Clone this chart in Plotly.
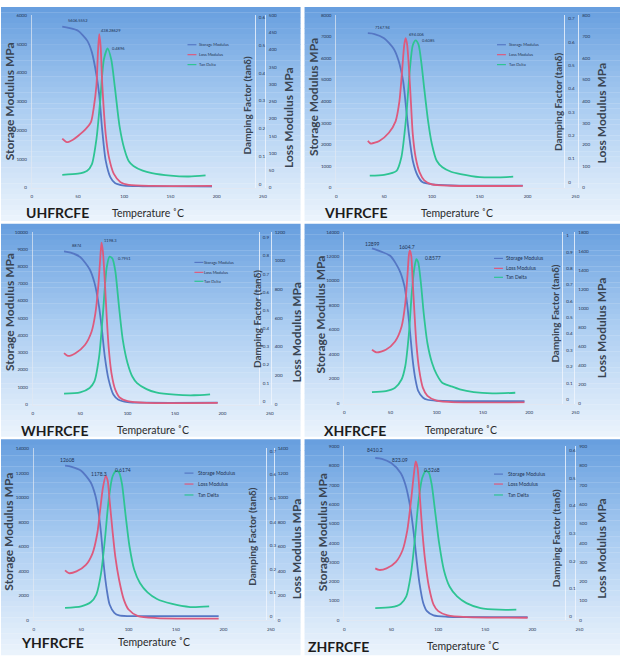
import plotly.graph_objects as go

W, H = 624, 657

# ---------------- data ----------------
sample_names = ["UHFRCFE", "VHFRCFE", "WHFRCFE", "XHFRCFE", "YHFRCFE", "ZHFRCFE"]
series_names = ["Storage Modulus", "Loss Modulus", "Tan Delta"]
x_label = "Temperature ˚C"
storage_title = "Storage Modulus MPa"
damping_title = "Damping Factor (tanδ)"
loss_title = "Loss Modulus MPa"
x_ticks = [0, 50, 100, 150, 200, 250]

# UHFRCFE
u_storage_T = [33, 40, 50, 60, 65, 70, 73, 76, 80, 85, 90, 100, 120, 150, 195]
u_storage = [5607, 5560, 5460, 5118, 4717, 3916, 3229, 2084, 939, 366, 160, 70, 50, 45, 40]
u_loss_T = [33, 38, 45, 50, 58, 64, 67, 70, 71.6, 73, 74.5, 76.3, 80, 83.5, 88.8, 96, 105, 130, 195]
u_loss = [142, 132, 140, 150, 169, 190, 231, 298, 393, 445, 410, 298, 155, 88, 40, 16, 8, 5, 5]
u_tan_T = [33, 50, 60, 65, 70, 74, 78, 82, 86, 90, 95, 100, 105, 110, 120, 130, 150, 170, 188]
u_tan = [0.033, 0.037, 0.048, 0.071, 0.163, 0.30, 0.449, 0.489, 0.449, 0.346, 0.208, 0.128, 0.082, 0.065, 0.048, 0.039, 0.030, 0.027, 0.031]
u_peak_labels = ["5606.5552", "438.28629", "0.4896"]

# VHFRCFE
v_storage_T = [33, 40, 50, 60, 65, 70, 73, 76, 80, 85, 90, 100, 120, 195]
v_storage = [7168, 7130, 6931, 6443, 5908, 4916, 3695, 2473, 1252, 565, 260, 153, 107, 92]
v_loss_T = [33, 36, 45, 55, 62, 66, 69, 71, 72.5, 74, 76, 78, 80, 83, 87, 92, 100, 120, 195]
v_loss = [217, 205, 217, 255, 308, 400, 553, 660, 694, 667, 553, 400, 247, 140, 72, 34, 15, 9, 8]
v_tan_T = [35, 50, 63, 68, 73, 77, 80, 83, 86, 89, 92, 96, 100, 105, 111, 120, 130, 150, 170, 185]
v_tan = [0.028, 0.032, 0.049, 0.106, 0.276, 0.488, 0.587, 0.608, 0.590, 0.510, 0.400, 0.262, 0.163, 0.092, 0.064, 0.045, 0.035, 0.022, 0.021, 0.024]
v_peak_labels = ["7167.94", "694.006", "0.6085"]

# WHFRCFE
w_storage_T = [33, 40, 50, 60, 65, 70, 73, 76, 80, 85, 90, 100, 120, 195]
w_storage = [8874, 8795, 8547, 7839, 7075, 5640, 4302, 2772, 1434, 574, 287, 134, 96, 96]
w_loss_T = [33, 37, 45, 55, 62, 66, 69, 71, 72.5, 74, 76, 78, 80, 83, 87, 92, 100, 120, 195]
w_loss = [356, 337, 356, 413, 505, 631, 815, 998, 1125, 1062, 856, 608, 401, 218, 103, 46, 23, 11, 11]
w_tan_T = [33, 50, 60, 65, 70, 74, 78, 81, 84, 87, 91, 95, 100, 105, 110, 120, 130, 150, 170, 187]
w_tan = [0.042, 0.049, 0.073, 0.109, 0.245, 0.482, 0.736, 0.795, 0.785, 0.718, 0.518, 0.336, 0.209, 0.136, 0.100, 0.067, 0.049, 0.036, 0.033, 0.038]
w_peak_labels = ["8874", "1198.3", "0.7951"]

# XHFRCFE
x_storage_T = [30, 40, 50, 60, 65, 68, 71, 74, 77, 80, 85, 90, 100, 120, 195]
x_storage = [12650, 12388, 12038, 10829, 9620, 8142, 5992, 3574, 1961, 1021, 484, 296, 215, 188, 188]
x_loss_T = [30, 35, 45, 55, 62, 66, 68.5, 70, 71, 72.5, 74, 76, 78, 81, 85, 90, 100, 120, 195]
x_loss = [563, 535, 563, 650, 805, 1047, 1358, 1565, 1605, 1548, 1289, 943, 632, 356, 166, 79, 28, 10, 10]
x_tan_T = [30, 45, 55, 62, 66, 70, 73, 76, 78, 80, 83, 86, 90, 95, 100, 106, 115, 125, 140, 160, 185]
x_tan = [0.044, 0.050, 0.071, 0.121, 0.202, 0.404, 0.646, 0.808, 0.858, 0.838, 0.707, 0.525, 0.343, 0.222, 0.152, 0.101, 0.081, 0.061, 0.044, 0.036, 0.040]
x_peak_labels = ["12899", "1604.7", "0.8577"]

# YHFRCFE
y_storage_T = [33, 40, 50, 60, 65, 68, 71, 74, 77, 80, 85, 90, 100, 120, 195]
y_storage = [12608, 12516, 12193, 11249, 10169, 8956, 7067, 4370, 2482, 1268, 593, 378, 324, 324, 324]
y_loss_T = [33, 37, 45, 55, 62, 67, 70, 73, 76, 78, 80, 83, 86, 90, 95, 100, 110, 130, 195]
y_loss = [405, 383, 397, 450, 545, 707, 896, 1084, 1178, 1138, 977, 734, 518, 329, 167, 86, 32, 16, 11]
y_tan_T = [33, 50, 60, 66, 71, 75, 79, 83, 87, 90, 93, 97, 101, 106, 112, 120, 130, 145, 165, 185]
y_tan = [0.035, 0.042, 0.059, 0.092, 0.183, 0.324, 0.493, 0.592, 0.617, 0.610, 0.563, 0.424, 0.296, 0.197, 0.141, 0.101, 0.073, 0.053, 0.039, 0.042]
y_peak_labels = ["12608", "1178.3", "0.6174"]

# ZHFRCFE
z_storage_T = [33, 40, 50, 60, 65, 70, 74, 77, 80, 84, 88, 95, 110, 195]
z_storage = [8410, 8368, 8146, 7634, 7036, 5926, 4474, 3108, 1913, 888, 461, 239, 171, 154]
z_loss_T = [33, 37, 45, 55, 62, 67, 71, 74, 76, 78, 80, 83, 86, 90, 95, 100, 110, 130, 195]
z_loss = [268, 260, 268, 302, 362, 464, 618, 755, 823, 789, 669, 464, 311, 174, 80, 46, 24, 15, 12]
z_tan_T = [33, 50, 60, 66, 71, 75, 79, 83, 87, 90, 93, 97, 101, 106, 112, 120, 130, 145, 165, 183]
z_tan = [0.030, 0.033, 0.045, 0.072, 0.155, 0.275, 0.418, 0.502, 0.527, 0.520, 0.478, 0.370, 0.263, 0.167, 0.108, 0.072, 0.048, 0.030, 0.024, 0.024]
z_peak_labels = ["8410.2", "823.09", "0.5268"]

panels_data = [
    (u_storage_T, u_storage, u_loss_T, u_loss, u_tan_T, u_tan, u_peak_labels),
    (v_storage_T, v_storage, v_loss_T, v_loss, v_tan_T, v_tan, v_peak_labels),
    (w_storage_T, w_storage, w_loss_T, w_loss, w_tan_T, w_tan, w_peak_labels),
    (x_storage_T, x_storage, x_loss_T, x_loss, x_tan_T, x_tan, x_peak_labels),
    (y_storage_T, y_storage, y_loss_T, y_loss, y_tan_T, y_tan, y_peak_labels),
    (z_storage_T, z_storage, z_loss_T, z_loss, z_tan_T, z_tan, z_peak_labels),
]

# axis scales per panel: storage max/step, tan range, loss max/step
storage_axes = [(6000, 1000), (8000, 1000), (10000, 1000), (14000, 2000), (14000, 2000), (9000, 1000)]
tan_ranges = [(-0.014, 0.61), (-0.024, 0.717), (-0.018, 0.933), (-0.026, 1.026), (-0.017, 0.713), (-0.014, 0.616)]
loss_axes = [(500, 50), (800, 100), (1200, 200), (1800, 200), (1400, 200), (900, 100)]

# ---------------- layout geometry (pixels) ----------------
geo = [
    dict(box=(0, 5, 302, 220), x=(31, 264), y=(13, 187), tanp=256, lossp=266,
         st=(8, 100), dt=(248, 104), lt=(290, 116), lab=(57, 212), tmp=(148, 212),
         leg=(188, 198, [43, 53, 63], 4), sh=[(16, 6), (12, 4), (11, 0)], lf=4),
    dict(box=(306, 5, 624, 220), x=(338, 579), y=(13, 187), tanp=568, lossp=582,
         st=(315, 95), dt=(562, 100), lt=(605, 112), lab=(358, 212), tmp=(460, 212),
         leg=(500, 510, [43, 53, 63], 4), sh=[(15, 6), (11, 4), (13, 0)], lf=4),
    dict(box=(0, 223, 302, 437), x=(32, 271), y=(231, 405), tanp=260, lossp=272,
         st=(8, 312), dt=(258, 319), lt=(298, 332), lab=(54, 431), tmp=(153, 431),
         leg=(195, 203, [262, 272, 281], 4), sh=[(13, 6), (9, 2), (15, -2)], lf=4),
    dict(box=(306, 223, 624, 437), x=(346, 579), y=(231, 404), tanp=566, lossp=578,
         st=(322, 314), dt=(559, 314), lt=(605, 328), lab=(357, 431), tmp=(464, 431),
         leg=(497, 507, [258, 268, 277], 5), sh=[(1, 4), (-3, 4), (17, 1)], lf=5),
    dict(box=(0, 440, 302, 657), x=(33, 272), y=(449, 622), tanp=267, lossp=275,
         st=(8, 533), dt=(253, 538), lt=(298, 550), lab=(52, 644), tmp=(154, 644),
         leg=(185, 197, [474, 485, 496], 5), sh=[(2, 6), (-7, 2), (7, 1)], lf=5),
    dict(box=(306, 440, 624, 657), x=(346, 583), y=(447, 622), tanp=569, lossp=579,
         st=(324, 533), dt=(559, 540), lt=(605, 550), lab=(340, 648), tmp=(466, 648),
         leg=(497, 509, [475, 485, 496], 5), sh=[(0, 8), (-16, 1), (6, 1)], lf=5),
]

BLUE, RED, GREEN = "#5577c4", "#dd5a7d", "#2ec493"
colors = [BLUE, RED, GREEN]
TICK_C = "#1f3352"
TITLE_C = "#3a4553"
FONT = "Lato"


def fx(px):
    return px / W


def fy(py):
    return 1 - py / H


def lerp_color(t):
    stops = [(0.0, (102, 158, 222)), (0.45, (168, 203, 241)), (1.0, (236, 244, 252))]
    for (t0, c0), (t1, c1) in zip(stops[:-1], stops[1:]):
        if t <= t1:
            a = (t - t0) / (t1 - t0)
            c = [round(c0[k] + a * (c1[k] - c0[k])) for k in range(3)]
            return f"rgb({c[0]},{c[1]},{c[2]})"
    return "rgb(236,244,252)"


fig = go.Figure()
layout = {}
shapes = []
annotations = []

tickfont = dict(family=FONT, size=4.5, color=TICK_C)

for i, (d, g) in enumerate(zip(panels_data, geo)):
    sT, s, lT, l, tT, t, labels = d
    n = i + 1
    xn = "x" if n == 1 else f"x{n}"
    xkey = "xaxis" if n == 1 else f"xaxis{n}"
    yi = [3 * i + 1, 3 * i + 2, 3 * i + 3]
    yn = ["y" if k == 1 else f"y{k}" for k in yi]
    ykey = ["yaxis" if k == 1 else f"yaxis{k}" for k in yi]

    # background gradient
    bx0, by0, bx1, by1 = g["box"]
    N = 40
    hstep = (by1 - by0) / N
    for k in range(N):
        shapes.append(dict(type="rect", xref="paper", yref="paper",
                           x0=fx(bx0), x1=fx(bx1),
                           y0=fy(by0 + (k + 1) * hstep + 0.3), y1=fy(by0 + k * hstep),
                           fillcolor=lerp_color((k + 0.5) / N), line=dict(width=0),
                           layer="below"))

    # traces
    for (xx, yy, yname, col, nm) in [(sT, s, yn[0], BLUE, series_names[0]),
                                     (lT, l, yn[2], RED, series_names[1]),
                                     (tT, t, yn[1], GREEN, series_names[2])]:
        fig.add_trace(go.Scatter(x=xx, y=yy, mode="lines", name=nm,
                                 line=dict(color=col, width=1.8, shape="spline", smoothing=0.7),
                                 xaxis=xn, yaxis=yname, showlegend=False,
                                 hoverinfo="skip"))

    smax, sdt = storage_axes[i]
    lmax, ldt = loss_axes[i]
    layout[xkey] = dict(domain=[fx(g["x"][0]), fx(g["x"][1])], anchor=yn[0],
                        range=[0, 250], tickvals=x_ticks, tickfont=tickfont,
                        showgrid=False, zeroline=False, showline=True,
                        linecolor="rgba(225,232,242,0.9)", linewidth=1, ticks="",
                        ticklabelstandoff=4, fixedrange=True)
    layout[ykey[0]] = dict(domain=[fy(g["y"][1]), fy(g["y"][0])], anchor=xn,
                           range=[-0.001 * smax, 1.002 * smax], dtick=sdt, tick0=0,
                           tickformat="d", tickfont=tickfont, showgrid=False,
                           zeroline=False, showline=True,
                           linecolor="rgba(225,232,242,0.7)", ticks="",
                           ticklabelstandoff=3, fixedrange=True)
    layout[ykey[1]] = dict(overlaying=yn[0], anchor="free", position=fx(g["tanp"]),
                           side="right", range=list(tan_ranges[i]), dtick=0.1, tick0=0,
                           tickfont=tickfont, showgrid=False, zeroline=False,
                           showline=True, linecolor="rgba(240,245,252,0.8)", ticks="",
                           ticklabelstandoff=2, fixedrange=True)
    layout[ykey[2]] = dict(overlaying=yn[0], anchor="free", position=fx(g["lossp"]),
                           side="right", range=[-0.001 * lmax, 1.002 * lmax], dtick=ldt,
                           tick0=0, tickformat="d", tickfont=tickfont, showgrid=False,
                           zeroline=False, showline=True,
                           linecolor="rgba(240,245,252,0.8)", ticks="",
                           ticklabelstandoff=2, fixedrange=True)

    # peak labels placed at the data maxima
    for (xx, yy, yname, txt, (dx, dy)) in [(sT, s, yn[0], labels[0], g["sh"][0]),
                                          (lT, l, yn[2], labels[1], g["sh"][1]),
                                          (tT, t, yn[1], labels[2], g["sh"][2])]:
        k = max(range(len(yy)), key=lambda j: yy[j])
        annotations.append(dict(x=xx[k], y=yy[k], xref=xn, yref=yname, text=txt,
                                showarrow=False, xshift=dx, yshift=dy,
                                font=dict(family=FONT, size=g["lf"], color=TICK_C)))

    # axis titles
    annotations.append(dict(x=fx(g["st"][0]), y=fy(g["st"][1]), xref="paper", yref="paper",
                            text=f"<b>{storage_title}</b>", textangle=-90, showarrow=False,
                            xanchor="center", yanchor="middle",
                            font=dict(family=FONT, size=12, color=TITLE_C)))
    annotations.append(dict(x=fx(g["dt"][0]), y=fy(g["dt"][1]), xref="paper", yref="paper",
                            text=f"<b>{damping_title}</b>", textangle=-90, showarrow=False,
                            xanchor="center", yanchor="middle",
                            font=dict(family=FONT, size=10, color=TITLE_C)))
    annotations.append(dict(x=fx(g["lt"][0]), y=fy(g["lt"][1]), xref="paper", yref="paper",
                            text=f"<b>{loss_title}</b>", textangle=-90, showarrow=False,
                            xanchor="center", yanchor="middle",
                            font=dict(family=FONT, size=12, color=TITLE_C)))
    annotations.append(dict(x=fx(g["lab"][0]), y=fy(g["lab"][1]), xref="paper", yref="paper",
                            text=f"<b>{sample_names[i]}</b>", showarrow=False,
                            xanchor="center", yanchor="middle",
                            font=dict(family=FONT, size=14, color="#1c1c1c")))
    annotations.append(dict(x=fx(g["tmp"][0]), y=fy(g["tmp"][1]), xref="paper", yref="paper",
                            text=x_label, showarrow=False, xanchor="center", yanchor="middle",
                            font=dict(family=FONT, size=10.5, color="#2a2a2a")))

    # legend (drawn as small keys)
    lx, tx, rows, lfs = g["leg"]
    for j, nm in enumerate(series_names):
        shapes.append(dict(type="line", xref="paper", yref="paper",
                           x0=fx(lx), x1=fx(lx + 9), y0=fy(rows[j]), y1=fy(rows[j]),
                           line=dict(color=colors[j], width=1.2)))
        annotations.append(dict(x=fx(tx), y=fy(rows[j]), xref="paper", yref="paper",
                                text=nm, showarrow=False, xanchor="left", yanchor="middle",
                                font=dict(family=FONT, size=lfs, color=TICK_C)))

fig.update_layout(**layout)
fig.update_layout(width=W, height=H, margin=dict(l=0, r=0, t=0, b=0),
                  paper_bgcolor="white", plot_bgcolor="rgba(0,0,0,0)",
                  shapes=shapes, annotations=annotations, showlegend=False,
                  font=dict(family=FONT))

fig.write_html("out.html", config={"displayModeBar": False})
